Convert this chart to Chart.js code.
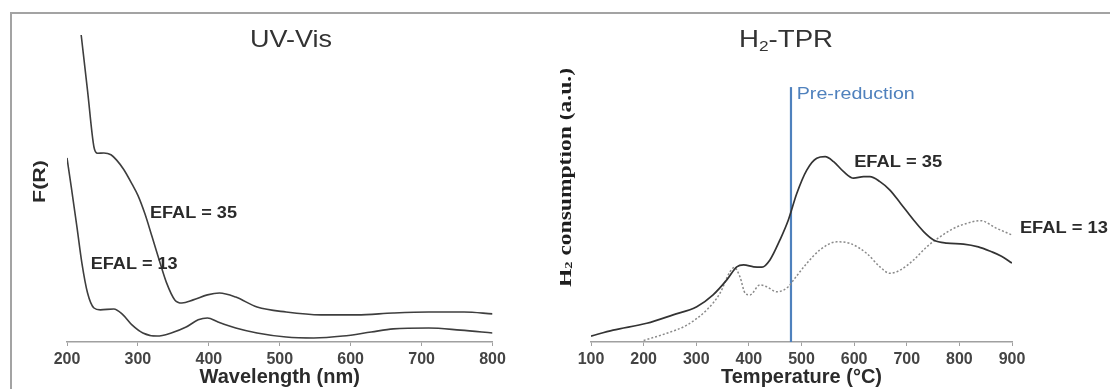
<!DOCTYPE html>
<html><head><meta charset="utf-8">
<script src="https://cdn.jsdelivr.net/npm/chart.js@4.4.1/dist/chart.umd.min.js"></script>
<style>
html,body{margin:0;padding:0;background:#fff;width:1110px;height:389px;overflow:hidden;}
#frame{position:absolute;left:10px;top:12px;width:1200px;height:500px;border:2px solid #a3a3a3;box-sizing:border-box;}
#c1{position:absolute;left:0;top:0;}
#c2{position:absolute;left:560px;top:0;}
</style></head><body>
<div id="frame"></div>
<canvas id="c1" width="560" height="389"></canvas>
<canvas id="c2" width="550" height="389"></canvas>
<script>
// ---------- UV-Vis data ----------
const uvWavelength35 = [220, 229, 238, 243, 252, 262, 270, 280, 292, 300, 310, 320, 330, 340, 352, 362, 378, 398, 415, 438, 468, 509, 558, 609, 660, 710, 760, 800];
const uvFR35 = [98.4, 80.5, 62.5, 60.5, 60.6, 60.0, 58.3, 55.3, 50.5, 47, 41, 33.7, 26.3, 19.2, 13.5, 12.5, 13.5, 15.1, 15.7, 14.4, 11.2, 9.6, 8.7, 8.7, 9.3, 9.6, 9.6, 9.0];
const uvWavelength13 = [200, 206, 214, 221, 229, 238, 247, 266, 279, 292, 307, 327, 347, 368, 385, 398, 413, 438, 468, 509, 548, 589, 629, 660, 710, 755, 800];
const uvFR13 = [59.0, 49.7, 36.9, 25.3, 15.7, 10.9, 10.3, 10.6, 8.7, 5.4, 2.9, 1.9, 2.9, 4.8, 7.1, 7.7, 6.4, 4.5, 2.9, 1.6, 1.3, 1.9, 3.2, 4.2, 4.5, 3.8, 2.9];
const uvTicks = [200, 300, 400, 500, 600, 700, 800];

// ---------- H2-TPR data ----------
const tprTemp35 = [100, 142, 206, 256, 301, 332, 358, 377, 390, 409, 425, 440, 459, 475, 491, 510, 529, 545, 561, 580, 599, 618, 630, 649, 668, 688, 713, 732, 751, 776, 808, 836, 860, 880, 900];
const tprH2_35 = [1.9, 3.8, 6.0, 8.7, 11.3, 15.1, 19.9, 24.1, 24.7, 24.1, 24.0, 26.3, 32.7, 39.1, 47.6, 55.1, 58.9, 59.4, 57.8, 54.6, 52.5, 53.0, 53.0, 51.4, 48.7, 44.5, 39.1, 35.4, 32.7, 31.7, 31.4, 30.5, 29.0, 27.5, 25.3];
const tprTemp13 = [200, 244, 282, 320, 345, 364, 372, 383, 393, 402, 421, 434, 453, 475, 485, 510, 535, 567, 592, 624, 649, 668, 688, 713, 738, 764, 789, 814, 840, 870, 900];
const tprH2_13 = [0.5, 2.8, 5.4, 10.3, 15.6, 22.5, 23.9, 20.9, 15.6, 15.1, 18.3, 17.7, 16.1, 17.7, 19.9, 25.2, 29.5, 32.1, 31.6, 28.4, 24.1, 22.0, 23.1, 26.3, 30.5, 33.8, 36.4, 38.0, 38.9, 36.5, 34.3];
const preReductionTemp = [480, 480];
const preReductionLevel = [0, 81.7];
const tprTicks = [100, 200, 300, 400, 500, 600, 700, 800, 900];

// label anchors (data units)
const uvLabels = [['EFAL = 35', 317, 41], ['EFAL = 13', 233.4, 24.7]];
const tprLabels = [['EFAL = 35', 600, 57.4], ['EFAL = 13', 915, 36.5]];
const preLabel = ['Pre-reduction', 491, 79.4];

const SANS = '"Liberation Sans", Arial, sans-serif';
const SERIF = '"Liberation Serif", "Times New Roman", serif';

function pts(xs, ys) { return xs.map((x, i) => ({x: x, y: ys[i]})); }

function drawParts(ctx, parts, x, y, targetW, opts) {
  ctx.save();
  let total = 0;
  const widths = parts.map(p => { ctx.font = p.font; const w = ctx.measureText(p.t).width; total += w; return w; });
  const sx = targetW ? targetW / total : 1;
  ctx.translate(x, y);
  if (opts.rot) ctx.rotate(opts.rot);
  ctx.scale(sx, 1);
  let start = opts.align === 'left' ? 0 : -total / 2;
  ctx.textBaseline = 'middle';
  ctx.textAlign = 'left';
  ctx.fillStyle = opts.color;
  parts.forEach((p, i) => { ctx.font = p.font; ctx.fillText(p.t, start, p.dy || 0); start += widths[i]; });
  ctx.restore();
}

function xAxis(min, max, ticks, title) {
  return {
    type: 'linear', min: min, max: max, position: 'bottom',
    afterFit: s => { s.height = 47; },
    afterBuildTicks: s => { s.ticks = ticks.map(v => ({value: v})); },
    ticks: { autoSkip: false, maxRotation: 0, color: '#444', padding: 4,
             font: { family: SANS, size: 16, weight: 'bold' } },
    grid: { display: true, drawOnChartArea: false, drawTicks: true, tickLength: 4, color: '#a0a0a0', lineWidth: 1 },
    border: { display: true, color: '#a0a0a0', width: 1.5 },
    title: { display: true, text: title, color: '#2b2b2b', padding: {top: 0, bottom: 0},
             font: { family: SANS, size: 20, weight: 'bold' } }
  };
}
const yAxis = { type: 'linear', min: 0, max: 100, display: false };

const uvPlugin = {
  id: 'uvText',
  afterDraw(chart) {
    const ctx = chart.ctx, xs = chart.scales.x, ys = chart.scales.y;
    drawParts(ctx, [{t: 'UV-Vis', font: '24px ' + SANS}], 291, 40, 82, {color: '#333'});
    drawParts(ctx, [{t: 'F(R)', font: 'bold 17px ' + SANS}], 40, 181.5, 43, {color: '#2a2a2a', rot: -Math.PI / 2});
    uvLabels.forEach(l => {
      drawParts(ctx, [{t: l[0], font: 'bold 16px ' + SANS}], xs.getPixelForValue(l[1]), ys.getPixelForValue(l[2]), 87, {color: '#2a2a2a', align: 'left'});
    });
  }
};

const tprPlugin = {
  id: 'tprText',
  afterDraw(chart) {
    const ctx = chart.ctx, xs = chart.scales.x, ys = chart.scales.y;
    drawParts(ctx, [
      {t: 'H', font: '24px ' + SANS},
      {t: '2', font: '15px ' + SANS, dy: 7},
      {t: '-TPR', font: '24px ' + SANS}
    ], 226, 40, 94, {color: '#333'});
    drawParts(ctx, [
      {t: 'H', font: 'bold 18px ' + SERIF},
      {t: '2', font: 'bold 11px ' + SERIF, dy: 3},
      {t: ' consumption (a.u.)', font: 'bold 18px ' + SERIF}
    ], 6, 177.5, 219, {color: '#1e1e1e', rot: -Math.PI / 2});
    tprLabels.forEach(l => {
      drawParts(ctx, [{t: l[0], font: 'bold 16px ' + SANS}], xs.getPixelForValue(l[1]), ys.getPixelForValue(l[2]), 88, {color: '#2a2a2a', align: 'left'});
    });
    drawParts(ctx, [{t: preLabel[0], font: '16px ' + SANS}], xs.getPixelForValue(preLabel[1]), ys.getPixelForValue(preLabel[2]), 118, {color: '#4f81bd', align: 'left'});
  }
};

const common = {
  responsive: false, animation: false,
  plugins: { legend: { display: false }, tooltip: { enabled: false } },
  elements: { point: { radius: 0 } }
};

new Chart(document.getElementById('c1'), {
  type: 'line',
  data: { datasets: [
    { data: pts(uvWavelength35, uvFR35), borderColor: '#3e3e3e', borderWidth: 1.6, cubicInterpolationMode: 'monotone', fill: false },
    { data: pts(uvWavelength13, uvFR13), borderColor: '#3e3e3e', borderWidth: 1.6, cubicInterpolationMode: 'monotone', fill: false }
  ]},
  options: Object.assign({}, common, {
    layout: { padding: { left: 67, right: 67.5, top: 30, bottom: 0 } },
    scales: { x: xAxis(200, 800, uvTicks, 'Wavelength (nm)'), y: yAxis }
  }),
  plugins: [uvPlugin]
});

new Chart(document.getElementById('c2'), {
  type: 'line',
  data: { datasets: [
    { data: pts(tprTemp35, tprH2_35), borderColor: '#333', borderWidth: 1.7, cubicInterpolationMode: 'monotone', fill: false },
    { data: pts(tprTemp13, tprH2_13), borderColor: '#8a8a8a', borderWidth: 1.5, borderDash: [2, 2], cubicInterpolationMode: 'monotone', fill: false },
    { data: pts(preReductionTemp, preReductionLevel), borderColor: '#4f81bd', borderWidth: 2.2, fill: false }
  ]},
  options: Object.assign({}, common, {
    layout: { padding: { left: 31, right: 98, top: 30, bottom: 0 } },
    scales: { x: xAxis(100, 900, tprTicks, 'Temperature (°C)'), y: yAxis }
  }),
  plugins: [tprPlugin]
});
</script>
</body></html>
